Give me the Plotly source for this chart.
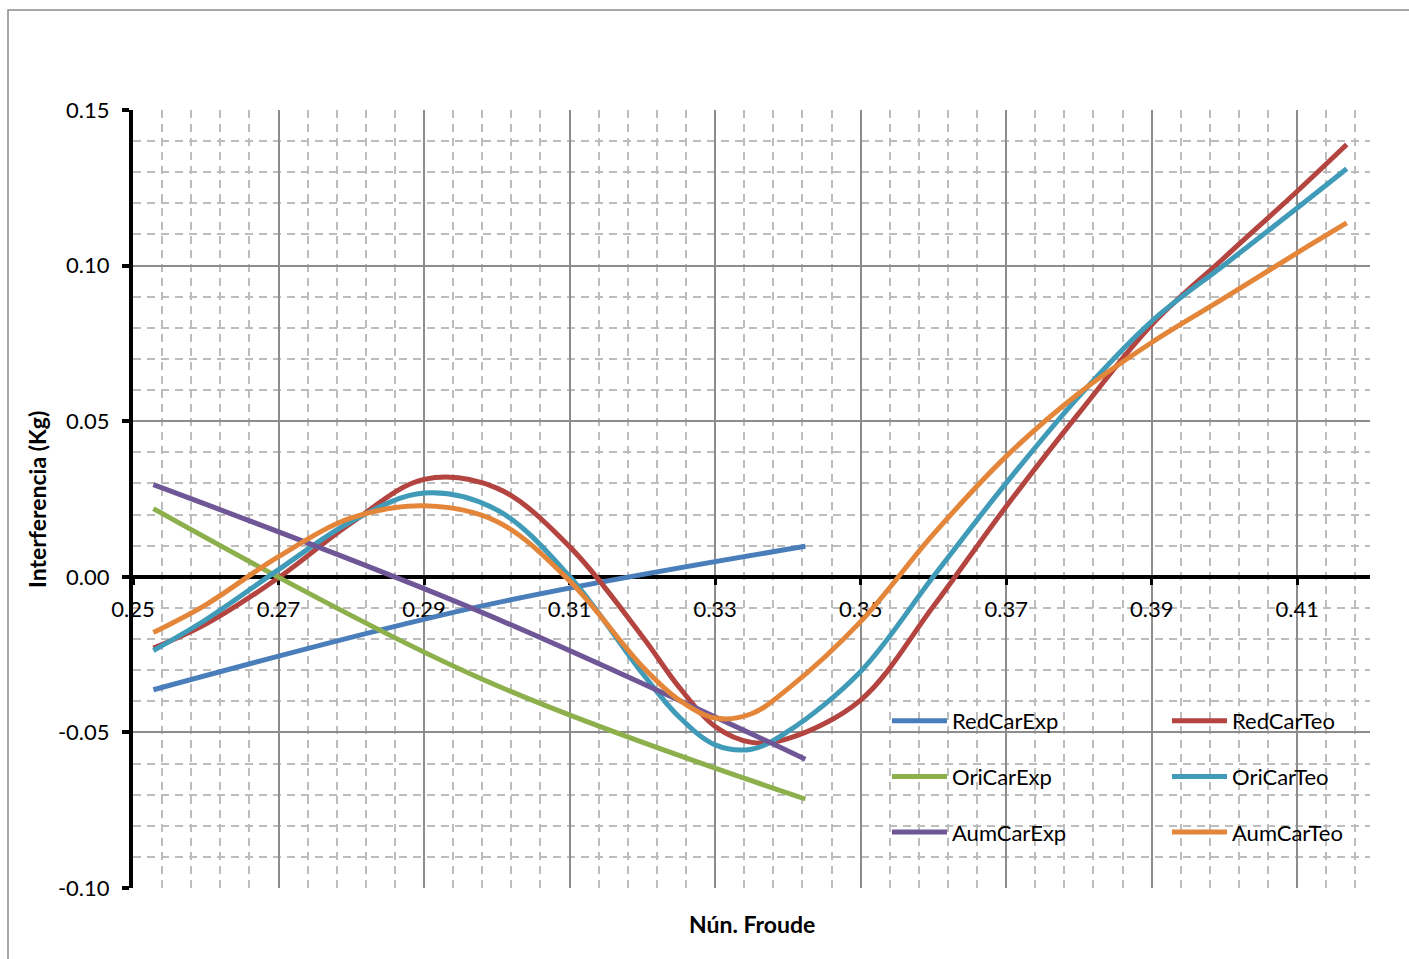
import plotly.graph_objects as go

# ---- data ----
froude_exp = [0.2528, 0.2977, 0.3424]
red_car_exp = [-0.0363, -0.0095, 0.0098]
ori_car_exp = [0.0219, -0.0326, -0.0714]
aum_car_exp = [0.0296, -0.0112, -0.0586]

froude_teo = [0.2528, 0.26, 0.27, 0.28, 0.29, 0.30, 0.31, 0.32, 0.325, 0.33,
              0.335, 0.34, 0.35, 0.36, 0.37, 0.38, 0.39, 0.40, 0.41, 0.4168]
red_car_teo = [-0.0229, -0.0152, -0.0003, 0.0173, 0.0313, 0.0285, 0.0097, -0.0192, -0.0353, -0.0481,
               -0.0532, -0.0520, -0.0396, -0.0095, 0.0226, 0.0526, 0.0810, 0.1026, 0.1239, 0.1389]
ori_car_teo = [-0.0237, -0.0138, 0.0023, 0.0178, 0.0269, 0.0215, 0.0001, -0.0310, -0.0449, -0.0540,
               -0.0554, -0.0497, -0.0304, 0.0001, 0.0301, 0.0580, 0.0821, 0.1003, 0.1185, 0.1311]
aum_car_teo = [-0.0179, -0.0090, 0.0065, 0.0189, 0.0228, 0.0178, -0.0013, -0.0288, -0.0395, -0.0454,
               -0.0440, -0.0360, -0.0144, 0.0137, 0.0387, 0.0590, 0.0753, 0.0896, 0.1041, 0.1137]

x_tick_vals = [0.25, 0.27, 0.29, 0.31, 0.33, 0.35, 0.37, 0.39, 0.41]
x_tick_text = ["0.25", "0.27", "0.29", "0.31", "0.33", "0.35", "0.37", "0.39", "0.41"]
y_tick_vals = [-0.10, -0.05, 0.00, 0.05, 0.10, 0.15]
y_tick_text = ["-0.10", "-0.05", "0.00", "0.05", "0.10", "0.15"]

x_title = "Nún. Froude"
y_title = "Interferencia (Kg)"

FONT = "Lato"

series = [
    ("RedCarExp", froude_exp, red_car_exp, "#4A7EBB", "legend"),
    ("RedCarTeo", froude_teo, red_car_teo, "#B4443F", "legend2"),
    ("OriCarExp", froude_exp, ori_car_exp, "#8DB04D", "legend"),
    ("OriCarTeo", froude_teo, ori_car_teo, "#3F9BB7", "legend2"),
    ("AumCarExp", froude_exp, aum_car_exp, "#6F5797", "legend"),
    ("AumCarTeo", froude_teo, aum_car_teo, "#E4863A", "legend2"),
]

fig = go.Figure()
for name, xs, ys, color, leg in series:
    fig.add_trace(go.Scatter(
        x=xs, y=ys, name=name, mode="lines",
        line=dict(color=color, width=5, shape="spline", smoothing=1.0),
        legend=leg, legendgroup=name,
    ))

W, H = 1409, 959
L, R, T, B = 133, 1370, 110, 888
pw, ph = R - L, B - T

def px_x(p):
    return (p - L) / pw

def px_y(p):
    return (B - p) / ph

legend_common = dict(
    bgcolor="rgba(0,0,0,0)", borderwidth=0,
    font=dict(family=FONT, size=22, color="black"),
    xanchor="left", yanchor="top", orientation="v",
    tracegroupgap=24, itemwidth=55,
)

fig.update_layout(
    width=W, height=H,
    margin=dict(l=L, r=W - R, t=T, b=H - B),
    paper_bgcolor="white", plot_bgcolor="white",
    font=dict(family=FONT, size=22, color="black"),
    showlegend=True,
    legend=dict(x=px_x(887), y=px_y(700), **legend_common),
    legend2=dict(x=px_x(1167), y=px_y(700), **legend_common),
    xaxis=dict(
        range=[0.25, 0.42], tickmode="array", tickvals=x_tick_vals, ticktext=x_tick_text,
        showgrid=True, gridcolor="#8C8C8C", gridwidth=1.5,
        minor=dict(tick0=0.25, dtick=0.004, showgrid=True, gridcolor="#BDBDBD",
                   gridwidth=1.6, griddash="8px,6px", ticklen=0),
        showline=True, linecolor="black", linewidth=4,
        anchor="free", position=0.4,
        ticks="outside", ticklen=6, tickwidth=3, tickcolor="black",
        ticklabelstandoff=6,
        zeroline=False, layer="below traces",
        tickfont=dict(family=FONT, size=22, color="black"),
    ),
    yaxis=dict(
        range=[-0.10, 0.15], tickmode="array", tickvals=y_tick_vals, ticktext=y_tick_text,
        showgrid=True, gridcolor="#8C8C8C", gridwidth=1.5,
        minor=dict(dtick=0.01, showgrid=True, gridcolor="#BDBDBD",
                   gridwidth=1.6, griddash="8px,6px", ticklen=0),
        showline=True, linecolor="black", linewidth=4,
        ticks="outside", ticklen=7, tickwidth=4, tickcolor="black",
        ticklabelstandoff=8,
        zeroline=False, layer="below traces",
        tickfont=dict(family=FONT, size=22, color="black"),
    ),
    annotations=[
        dict(text=y_title, xref="paper", yref="paper", x=px_x(37), y=0.5,
             textangle=-90, showarrow=False, xanchor="center", yanchor="middle",
             font=dict(family=FONT, size=23, color="black", weight="bold")),
        dict(text=x_title, xref="paper", yref="paper", x=0.5, y=px_y(924),
             showarrow=False, xanchor="center", yanchor="middle",
             font=dict(family=FONT, size=23, color="black", weight="bold")),
    ],
    shapes=[
        dict(type="rect", xref="paper", yref="paper",
             x0=px_x(8), x1=px_x(1430), y0=px_y(980), y1=px_y(10),
             line=dict(color="#8A8A8A", width=1.5), fillcolor="rgba(0,0,0,0)", layer="below"),
    ],
)

fig.write_html("out.html", config={"displayModeBar": False},
               post_script="document.body.style.margin='0px';")
